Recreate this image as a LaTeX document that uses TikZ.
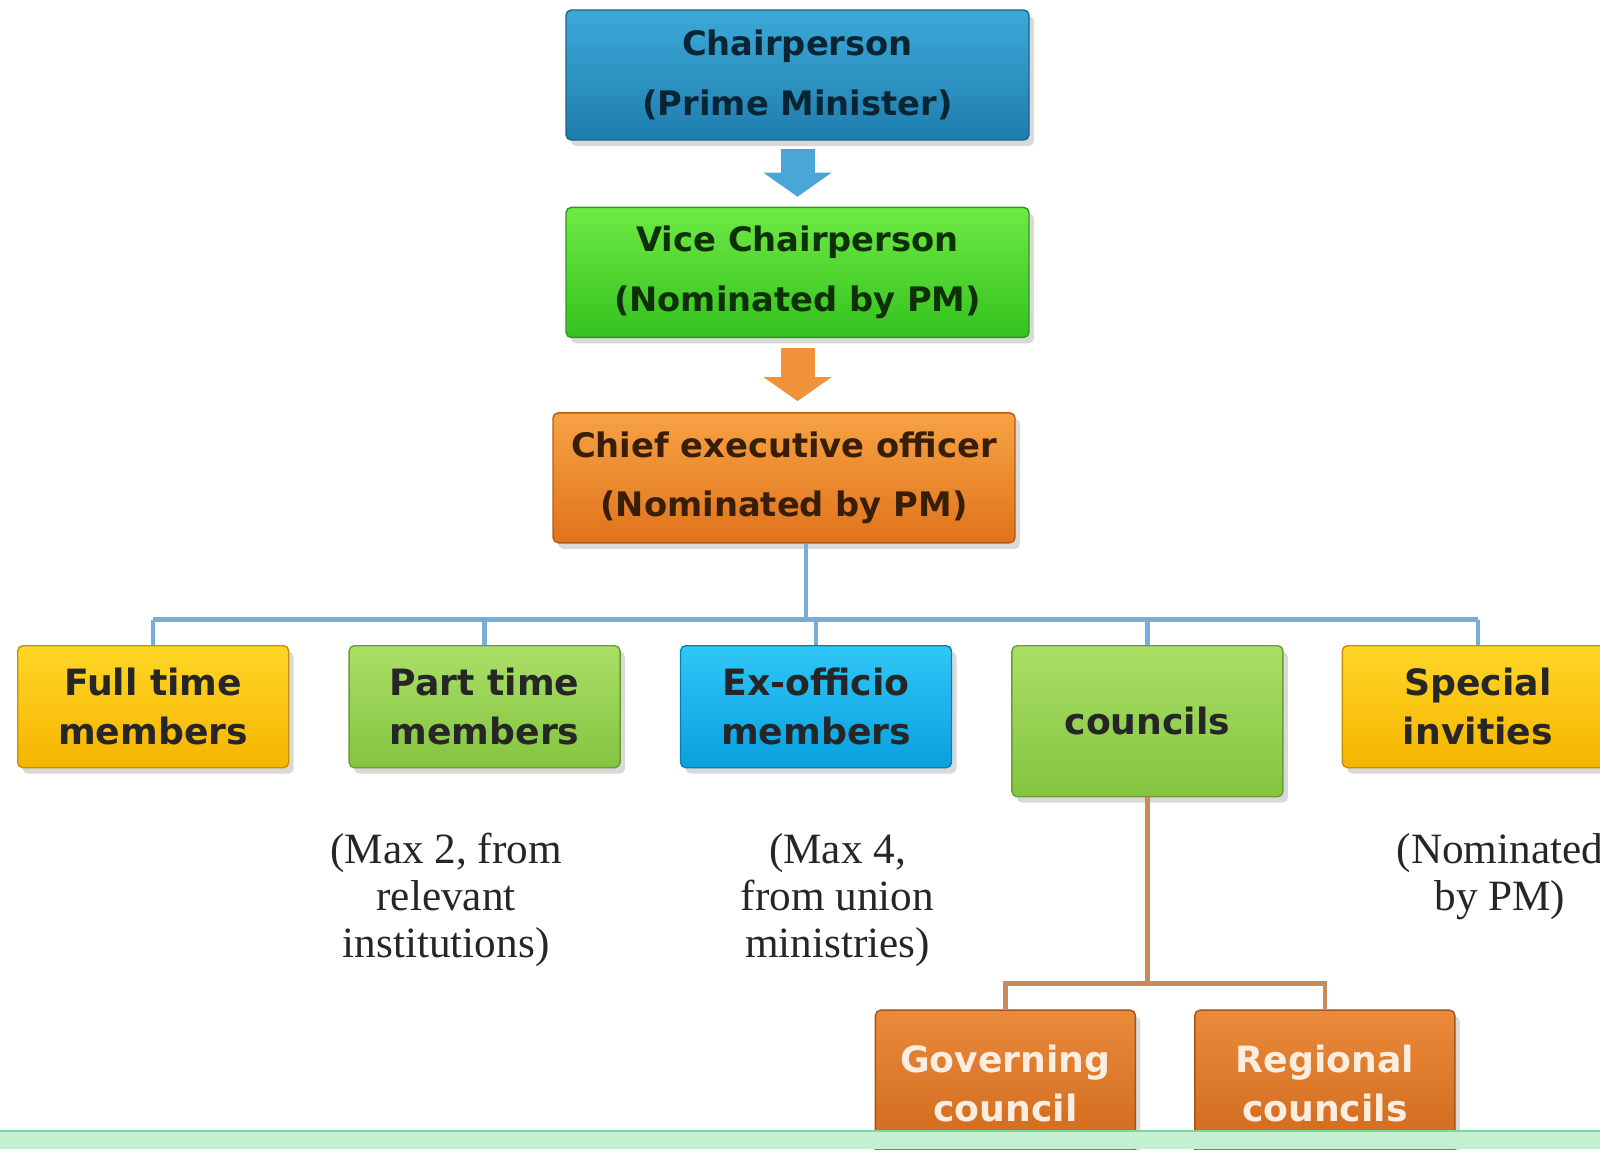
\documentclass[tikz,border=0pt]{standalone}
\usepackage{fontspec}
\setmainfont{Liberation Serif}
\newfontfamily\boxfont{DejaVu Sans}
\usepackage{xcolor}
\usetikzlibrary{arrows.meta,positioning,shadows,calc}

\definecolor{chairtop}{HTML}{3CA9D8}
\definecolor{chairbot}{HTML}{1F7DAE}
\definecolor{vicetop}{HTML}{6FEA44}
\definecolor{vicebot}{HTML}{34C21E}
\definecolor{ceotop}{HTML}{F7A244}
\definecolor{ceobot}{HTML}{E0731C}
\definecolor{goldtop}{HTML}{FFD626}
\definecolor{goldbot}{HTML}{F5B500}
\definecolor{leaftop}{HTML}{AADF66}
\definecolor{leafbot}{HTML}{84C440}
\definecolor{skytop}{HTML}{30C6F7}
\definecolor{skybot}{HTML}{08A0DE}
\definecolor{rusttop}{HTML}{EA8A3A}
\definecolor{rustbot}{HTML}{CF681C}
\definecolor{busblue}{HTML}{78AED6}
\definecolor{cbusbrown}{HTML}{C98A5A}
\definecolor{arblue}{HTML}{4AA6D6}
\definecolor{arorange}{HTML}{F0923A}
\definecolor{stripline}{HTML}{7ED79A}
\definecolor{stripfill}{HTML}{C4F0D2}

\begin{document}
\begin{tikzpicture}[x=1mm,y=1mm,
  lead/.style={rounded corners=1.5pt,align=center,minimum width=46.3mm,minimum height=13mm,
    line width=0.4pt,font=\boxfont\bfseries\fontsize{9.6}{17}\selectfont,
    drop shadow={opacity=0.3,shadow xshift=0.5mm,shadow yshift=-0.6mm}},
  mem/.style={lead,minimum width=27.1mm,minimum height=12.2mm,
    font=\boxfont\bfseries\fontsize{10.3}{13.9}\selectfont},
  cnl/.style={mem,minimum width=26mm,minimum height=14.6mm,text=rusttop!15!white,
    top color=rusttop,bottom color=rustbot,draw=rustbot!80!black},
  gold/.style={top color=goldtop,bottom color=goldbot,draw=goldbot!80!black,text=black!85},
  leaf/.style={top color=leaftop,bottom color=leafbot,draw=leafbot!80!black,text=black!85},
  sky/.style={top color=skytop,bottom color=skybot,draw=skybot!80!black,text=black!85},
  note/.style={align=center,inner sep=0pt,text=black!85,font=\fontsize{12.3}{13.4}\selectfont},
  ar/.style={line width=3.4mm,-{Triangle[length=2.4mm,width=6.7mm]}},
  bus/.style={draw=busblue,line width=0.45mm},
  cbus/.style={draw=cbusbrown,line width=0.45mm}]
\useasboundingbox (0,0) rectangle (160,-114.9);

% top chain
\node[lead,top color=chairtop,bottom color=chairbot,draw=chairbot!80!black,text=chairbot!30!black]
  (chair) at (79.75,-7.5) {Chairperson\\(Prime Minister)};
\node[lead,below=6.6mm of chair,top color=vicetop,bottom color=vicebot,draw=vicebot!80!black,
  text=vicebot!25!black] (vice) {Vice Chairperson\\(Nominated by PM)};
\node[lead,below=7.4mm of vice,xshift=-1.35mm,minimum width=46.2mm,top color=ceotop,
  bottom color=ceobot,draw=ceobot!80!black,text=ceobot!25!black] (ceo)
  {Chief executive officer\\(Nominated by PM)};
\draw[ar,draw=arblue,shorten <=0.8mm,shorten >=1mm] (chair) -- (vice);
\draw[ar,draw=arorange,shorten <=1mm,shorten >=1.1mm] (vice.south) -- (vice.south |- ceo.north);

% members row
\node[mem,gold,anchor=north west] (full) at (1.7,-64.5) {Full time\\members};
\node[mem,leaf,right=5.9mm of full] (part) {Part time\\members};
\node[mem,sky,right=5.9mm of part] (exo) {Ex-officio\\members};
\node[mem,leaf,right=5.9mm of exo.north east,anchor=north west,minimum height=15.1mm] (coun) {councils};
\node[mem,gold,right=5.8mm of coun.north east,anchor=north west] (spec) {Special\\invities};

\coordinate (busmid) at ([xshift=2.2mm,yshift=-7.6mm]ceo.south);
\draw[bus] ([xshift=2.2mm]ceo.south) -- (busmid);
\draw[bus] (full.north |- busmid) -- (spec.north |- busmid);
\foreach \n in {full,part,exo,coun,spec}
  \draw[bus] (\n.north |- busmid) -- (\n.north);

\node[note,anchor=north] (partnote) at ([xshift=-3.85mm,yshift=-6.4mm]part.south)
  {(Max 2, from\\relevant\\institutions)};
\node[note,anchor=north] (exonote) at ([xshift=2.15mm,yshift=-6.4mm]exo.south)
  {(Max 4,\\from union\\ministries)};
\node[note,anchor=north] (specnote) at ([xshift=2.2mm,yshift=-6.4mm]spec.south)
  {(Nominated\\by PM)};

% councils
\coordinate (split) at ([yshift=-18.6mm]coun.south);
\node[cnl,anchor=north] (gov) at ([xshift=-14.2mm,yshift=-2.6mm]split) {Governing\\council};
\node[cnl,right=5.8mm of gov] (reg) {Regional\\councils};
\draw[cbus] (coun) -- (split);
\draw[cbus] (gov.north) |- (split) -| (reg.north);

% bottom strip
\fill[stripfill] (0,-113.1) rectangle (160,-114.9);
\draw[stripline,line width=0.6pt] (0,-113.1) -- (160,-113.1);
\end{tikzpicture}
\end{document}
